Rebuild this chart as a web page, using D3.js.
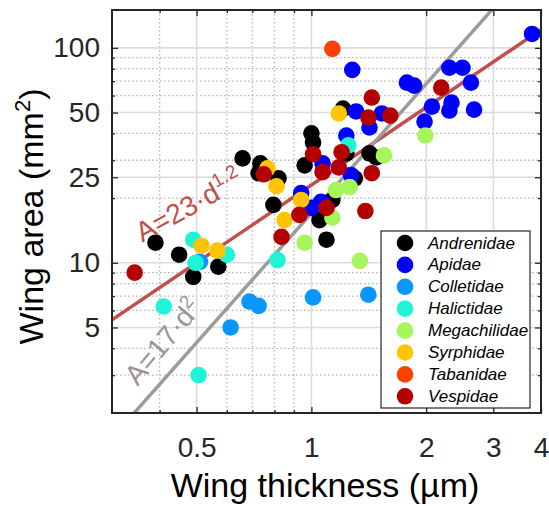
<!DOCTYPE html>
<html>
<head>
<meta charset="utf-8">
<script src="https://cdn.jsdelivr.net/npm/d3@7/dist/d3.min.js"></script>
<style>
  body { margin: 0; background: #fff; }
  svg { display: block; font-family: Arial, "Liberation Sans", sans-serif; }
</style>
</head>
<body>
<svg id="chart" width="549" height="506"></svg>
<script>
// wing thickness (um), wing area (mm^2)
const andrenidae = [
  [0.39, 12.4], [0.45, 10.9], [0.49, 8.6], [0.57, 9.6], [0.66, 30.6],
  [0.735, 29.0], [0.727, 26.1], [0.82, 24.7], [0.96, 28.4], [1.0, 40.0],
  [1.01, 36.3], [0.795, 18.6], [1.21, 52.2], [1.235, 32.3], [1.42, 32.3],
  [1.48, 30.9], [1.30, 24.7], [1.135, 19.6], [1.05, 15.8], [1.10, 16.9],
  [1.095, 12.8]
];
const apidae = [
  [3.79, 116], [1.28, 79], [1.78, 68.9], [1.86, 66.7], [2.30, 80.8],
  [2.49, 80.8], [2.62, 68.9], [2.07, 53.3], [2.33, 55.6], [2.30, 51.1],
  [2.67, 51.6], [1.98, 45.4], [1.31, 50.6], [1.53, 49.5], [1.42, 42.6],
  [1.235, 39.1], [1.07, 29.0], [1.27, 25.6], [0.94, 21.1], [1.06, 19.2],
  [1.0, 18.0]
];
const colletidae = [
  [0.614, 5.0], [0.688, 6.6], [0.727, 6.3], [1.01, 6.9], [1.41, 7.1], [0.51, 10.1]
];
const halictidae = [
  [0.49, 12.8], [0.497, 10.0], [0.60, 10.9], [0.41, 6.26], [0.506, 3.0],
  [0.815, 10.3], [1.25, 35.2]
];
const megachilidae = [
  [0.96, 12.4], [1.34, 10.2], [1.55, 31.6], [1.16, 21.8], [1.26, 22.5],
  [1.135, 16.2], [1.99, 39.1]
];
const syrphidae = [
  [0.515, 12.0], [0.567, 11.4], [0.767, 27.5], [0.81, 22.7], [0.94, 19.6],
  [0.85, 15.8], [1.18, 49.5]
];
const tabanidae = [[1.135, 98.9]];
const vespidae = [
  [0.344, 9.0], [0.75, 25.8], [0.835, 13.2], [1.01, 32.0], [1.20, 32.7],
  [1.18, 27.8], [1.07, 26.4], [1.44, 26.1], [0.93, 16.7], [1.095, 18.0],
  [1.385, 17.4], [1.44, 58.7], [1.41, 47.4], [1.61, 48.4], [2.19, 65.3]
];

const families = ['Andrenidae', 'Apidae', 'Colletidae', 'Halictidae',
  'Megachilidae', 'Syrphidae', 'Tabanidae', 'Vespidae'];
const familyData = [andrenidae, apidae, colletidae, halictidae,
  megachilidae, syrphidae, tabanidae, vespidae];
const familyColors = ['#000000', '#0000ff', '#0a96ff', '#1ef5d8',
  '#a6f55a', '#ffc400', '#ff4000', '#b40000'];

const xMajor = [0.5, 1, 2, 3, 4];
const xMinor = [0.4, 0.6, 0.7, 0.8, 0.9];
const yMajor = [5, 10, 25, 50, 100];
const yMinor = [3, 4, 6, 7, 8, 9, 20, 30, 40, 60, 70, 80, 90];

// A = a * d^b
const fitArea = { a: 23, b: 1.2 };
const fitCube = { a: 17, b: 2 };

const svg = d3.select('#chart');
const margin = { top: 10, right: 8, bottom: 93, left: 112 };
const W = +svg.attr('width'), H = +svg.attr('height');
const x0 = margin.left, x1 = W - margin.right;
const y0 = margin.top, y1 = H - margin.bottom;

const x = d3.scaleLog().domain([0.3, 4]).range([x0, x1]);
const y = d3.scaleLog().domain([2, 150]).range([y1, y0]);

svg.append('defs').append('clipPath').attr('id', 'plot-clip')
  .append('rect')
  .attr('x', x0).attr('y', y0)
  .attr('width', x1 - x0).attr('height', y1 - y0);

// grid
const grid = svg.append('g');
grid.selectAll('.vminor').data(xMinor).enter().append('line')
  .attr('x1', d => x(d)).attr('x2', d => x(d))
  .attr('y1', y0).attr('y2', y1)
  .attr('stroke', '#b4b4b4').attr('stroke-width', 1.3)
  .attr('stroke-dasharray', '1.5,2.5');
grid.selectAll('.hminor').data(yMinor).enter().append('line')
  .attr('y1', d => y(d)).attr('y2', d => y(d))
  .attr('x1', x0).attr('x2', x1)
  .attr('stroke', '#b4b4b4').attr('stroke-width', 1.3)
  .attr('stroke-dasharray', '1.5,2.5');
grid.selectAll('.vmajor').data(xMajor.filter(d => d < 4)).enter().append('line')
  .attr('x1', d => x(d)).attr('x2', d => x(d))
  .attr('y1', y0).attr('y2', y1)
  .attr('stroke', '#dcdcdc').attr('stroke-width', 1.6);
grid.selectAll('.hmajor').data(yMajor).enter().append('line')
  .attr('y1', d => y(d)).attr('y2', d => y(d))
  .attr('x1', x0).attr('x2', x1)
  .attr('stroke', '#dcdcdc').attr('stroke-width', 1.6);

// fit lines
const line = d3.line().x(d => x(d[0])).y(d => y(d[1]));
const lineG = svg.append('g').attr('clip-path', 'url(#plot-clip)');
function fitPoints(f) {
  return x.domain().map(d => [d, f.a * Math.pow(d, f.b)]);
}
lineG.append('path').datum(fitPoints(fitArea))
  .attr('d', line).attr('fill', 'none')
  .attr('stroke', '#c0504d').attr('stroke-width', 3.5);
lineG.append('path').datum(fitPoints(fitCube))
  .attr('d', line).attr('fill', 'none')
  .attr('stroke', '#9c9c9c').attr('stroke-width', 3.5);

// points
const dots = svg.append('g').attr('clip-path', 'url(#plot-clip)');
familyData.forEach((pts, i) => {
  dots.selectAll(null).data(pts).enter().append('circle')
    .attr('cx', d => x(d[0]))
    .attr('cy', d => y(d[1]))
    .attr('r', 8.3)
    .attr('fill', familyColors[i]);
});

// fit labels
const redLabel = svg.append('text')
  .attr('transform', `translate(${x(0.36)},${y(12.4)}) rotate(-29)`)
  .attr('fill', '#c0504d').style('font-size', '28px');
redLabel.append('tspan').text('A=23·d');
redLabel.append('tspan').attr('dy', -12).style('font-size', '19px').text('1.2');

const grayLabel = svg.append('text')
  .attr('transform', `translate(${x(0.35)},${y(2.65)}) rotate(-50)`)
  .attr('fill', '#9a929c').style('font-size', '28px');
grayLabel.append('tspan').text('A=17·d');
grayLabel.append('tspan').attr('dy', -11).style('font-size', '19px').text('2');

// axes: ticks inside, on all four sides
const fmt = d => String(d);
function styleAxis(g) {
  g.select('.domain').remove();
  g.selectAll('.tick line').attr('stroke', '#262626').attr('stroke-width', 1.3);
  g.selectAll('.tick text').attr('fill', '#262626').style('font-size', '28px')
    .style('font-family', 'Arial, "Liberation Sans", sans-serif');
}
svg.append('g').attr('transform', `translate(0,${y1})`)
  .call(d3.axisBottom(x).tickValues(xMajor).tickFormat(fmt)
    .tickSizeInner(-6).tickSizeOuter(0).tickPadding(24))
  .call(styleAxis);
svg.append('g').attr('transform', `translate(0,${y1})`)
  .call(d3.axisBottom(x).tickValues(xMinor).tickFormat('').tickSizeInner(-3).tickSizeOuter(0))
  .call(styleAxis);
svg.append('g').attr('transform', `translate(0,${y0})`)
  .call(d3.axisTop(x).tickValues(xMajor).tickFormat('').tickSizeInner(-6).tickSizeOuter(0))
  .call(styleAxis);
svg.append('g').attr('transform', `translate(0,${y0})`)
  .call(d3.axisTop(x).tickValues(xMinor).tickFormat('').tickSizeInner(-3).tickSizeOuter(0))
  .call(styleAxis);
svg.append('g').attr('transform', `translate(${x0},0)`)
  .call(d3.axisLeft(y).tickValues(yMajor).tickFormat(fmt)
    .tickSizeInner(-6).tickSizeOuter(0).tickPadding(12))
  .call(styleAxis);
svg.append('g').attr('transform', `translate(${x0},0)`)
  .call(d3.axisLeft(y).tickValues(yMinor).tickFormat('').tickSizeInner(-3).tickSizeOuter(0))
  .call(styleAxis);
svg.append('g').attr('transform', `translate(${x1},0)`)
  .call(d3.axisRight(y).tickValues(yMajor).tickFormat('').tickSizeInner(-6).tickSizeOuter(0))
  .call(styleAxis);
svg.append('g').attr('transform', `translate(${x1},0)`)
  .call(d3.axisRight(y).tickValues(yMinor).tickFormat('').tickSizeInner(-3).tickSizeOuter(0))
  .call(styleAxis);

// frame
svg.append('rect')
  .attr('x', x0).attr('y', y0)
  .attr('width', x1 - x0).attr('height', y1 - y0)
  .attr('fill', 'none').attr('stroke', '#262626').attr('stroke-width', 2);

// axis labels
svg.append('text')
  .attr('x', 325).attr('y', 497)
  .attr('text-anchor', 'middle')
  .style('font-size', '34px').attr('fill', '#000')
  .text('Wing thickness (µm)');

const yLab = svg.append('text')
  .attr('transform', `translate(43,${(y0 + y1) / 2 + 5}) rotate(-90)`)
  .attr('text-anchor', 'middle')
  .style('font-size', '34px').attr('fill', '#000');
yLab.append('tspan').text('Wing area (mm');
yLab.append('tspan').attr('dy', -13).style('font-size', '22px').text('2');
yLab.append('tspan').attr('dy', 13).text(')');

// legend
const legend = svg.append('g').attr('transform', 'translate(381,231)');
legend.append('rect')
  .attr('width', 149).attr('height', 177)
  .attr('fill', '#fff').attr('stroke', '#262626').attr('stroke-width', 1.2);
const rows = legend.selectAll('.row').data(families).enter().append('g')
  .attr('transform', (d, i) => `translate(0,${12 + i * 21.9})`);
rows.append('circle')
  .attr('cx', 24).attr('cy', 0).attr('r', 8.3)
  .attr('fill', (d, i) => familyColors[i]);
rows.append('text')
  .attr('x', 47).attr('y', 0)
  .attr('dominant-baseline', 'central')
  .style('font-size', '17px').style('font-style', 'italic')
  .attr('fill', '#000')
  .text(d => d);
</script>
</body>
</html>
